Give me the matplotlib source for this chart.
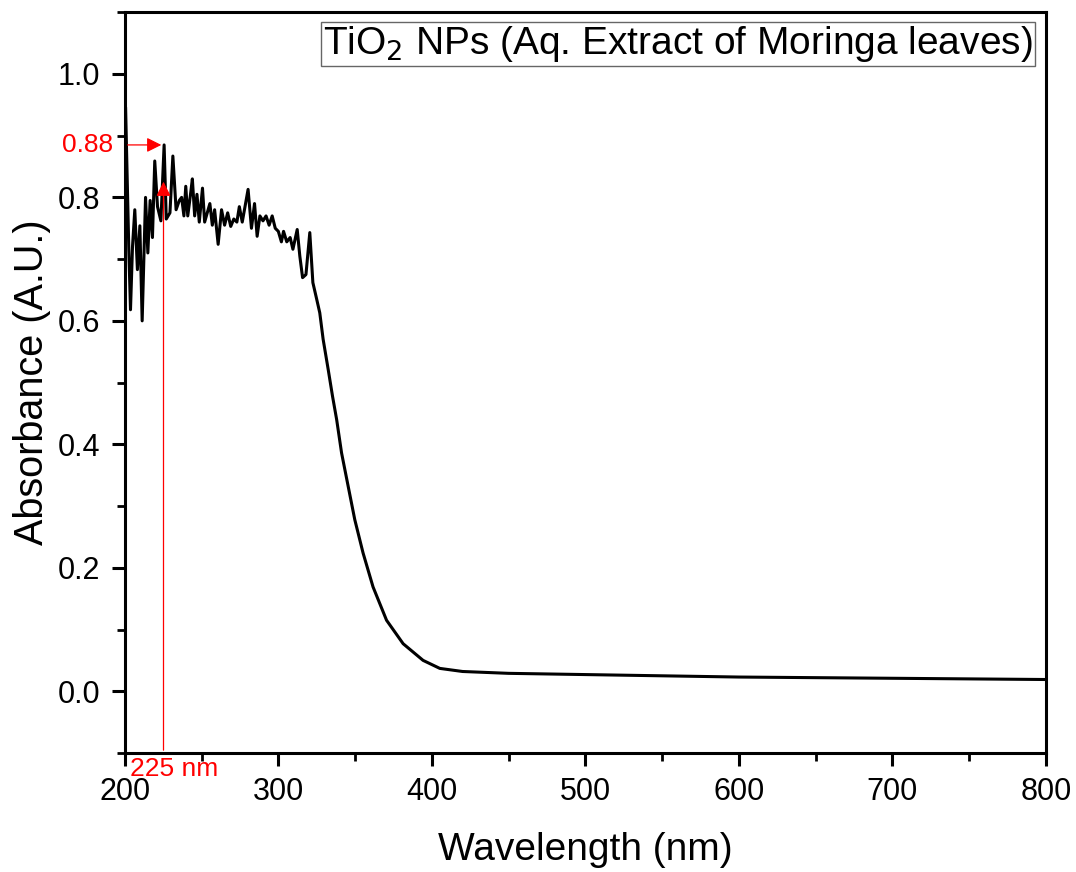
import matplotlib.pyplot as plt
from matplotlib.ticker import MultipleLocator

plt.rcParams['font.family'] = ['Liberation Sans', 'DejaVu Sans']

# UV-Vis spectrum, values
wavelength = [200.0, 200.5, 202.6, 203.7, 205.0, 206.5, 208.2, 209.8, 211.3, 213.5,
              215.0, 216.5, 218.0, 219.5, 221.3, 223.5, 225.6, 227.0, 229.4, 231.3,
              233.4, 235.5, 237.0, 238.5, 239.7, 241.0, 242.8, 244.0, 245.5, 247.0,
              248.5, 250.6, 252.0, 255.4, 257.0, 258.5, 260.8, 263.0, 265.0, 267.0,
              269.0, 271.0, 273.0, 274.6, 276.5, 280.3, 282.5, 284.5, 286.2, 288.0,
              290.0, 292.0, 294.0, 296.0, 298.0, 300.0, 302.0, 303.4, 305.5, 307.7,
              309.5, 312.3, 314.0, 315.8, 318.0, 320.5, 322.5, 325.0, 327.0, 329.2,
              332.5, 335.3, 338.0, 341.2, 345.5, 349.8, 355.2, 361.7, 370.5, 381.3,
              394.3, 405.2, 420.0, 450.0, 500.0, 550.0, 600.0, 650.0, 700.0, 750.0,
              800.0]
absorbance = [0.72, 0.946, 0.716, 0.618, 0.72, 0.78, 0.683, 0.754, 0.600, 0.800,
              0.710, 0.795, 0.735, 0.859, 0.785, 0.762, 0.885, 0.765, 0.775, 0.867,
              0.780, 0.795, 0.800, 0.770, 0.818, 0.770, 0.805, 0.830, 0.770, 0.805,
              0.760, 0.815, 0.760, 0.790, 0.755, 0.780, 0.724, 0.780, 0.755, 0.775,
              0.753, 0.765, 0.760, 0.785, 0.760, 0.813, 0.750, 0.790, 0.737, 0.770,
              0.762, 0.770, 0.755, 0.770, 0.750, 0.745, 0.728, 0.745, 0.728, 0.735,
              0.716, 0.748, 0.705, 0.670, 0.675, 0.743, 0.662, 0.635, 0.613, 0.570,
              0.521, 0.478, 0.440, 0.386, 0.332, 0.278, 0.224, 0.169, 0.115, 0.077,
              0.050, 0.037, 0.032, 0.029, 0.027, 0.025, 0.023, 0.022, 0.021, 0.020,
              0.019]

peak_wl = 225.6
peak_abs = 0.885

fig = plt.figure(figsize=(10.76, 8.72), dpi=100)
ax = fig.add_axes([0.116, 0.1365, 0.856, 0.8495])

ax.plot(wavelength, absorbance, color='black', lw=2.2)

ax.set_xlim(200, 800)
ax.set_ylim(-0.1, 1.1)
ax.xaxis.set_major_locator(MultipleLocator(100))
ax.xaxis.set_minor_locator(MultipleLocator(50))
ax.yaxis.set_major_locator(MultipleLocator(0.2))
ax.yaxis.set_minor_locator(MultipleLocator(0.1))
ax.yaxis.set_major_formatter(plt.FuncFormatter(lambda v, p: f'{v:.1f}'))

for s in ax.spines.values():
    s.set_linewidth(2.2)
ax.tick_params(which='major', direction='out', length=9.5, width=2.2, labelsize=22, pad=8)
ax.tick_params(which='minor', direction='out', length=5.5, width=2.0)

ax.set_xlabel('Wavelength (nm)', fontsize=28, labelpad=18)
ax.set_ylabel('Absorbance (A.U.)', fontsize=28.5, labelpad=5)

# peak markers
ax.annotate('', xy=(peak_wl, peak_abs), xytext=(200, peak_abs),
            arrowprops=dict(arrowstyle='-|>', color='red', lw=0.9, mutation_scale=22))
ax.annotate('', xy=(peak_wl - 0.4, 0.83), xytext=(peak_wl - 0.4, -0.1),
            arrowprops=dict(arrowstyle='-|>', color='red', lw=0.9, mutation_scale=22))
ax.text(192.5, peak_abs, '0.88', color='red', fontsize=19, ha='right', va='center')
ax.text(203.5, -0.106, '225 nm', color='red', fontsize=19, ha='left', va='top')

ax.text(0.986, 0.984, 'TiO$_2$ NPs (Aq. Extract of Moringa leaves)', transform=ax.transAxes,
        fontsize=28, ha='right', va='top',
        bbox=dict(boxstyle='square,pad=0.05', fc='white', ec='0.4', lw=1.0))

fig.savefig('out.png', dpi=100)
